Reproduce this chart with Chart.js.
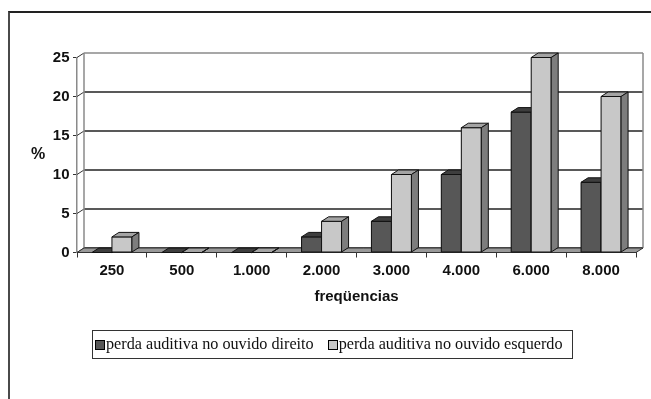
<!DOCTYPE html>
<html lang="pt">
<head>
<meta charset="utf-8">
<script src="https://cdn.jsdelivr.net/npm/chart.js@4/dist/chart.umd.min.js"></script>
<style>
  html, body { margin: 0; padding: 0; background: #fff; }
  #wrap { position: relative; width: 651px; height: 399px; overflow: hidden; }
  #frame { position: absolute; left: 8px; top: 11px; width: 700px; height: 450px;
           border-left: 2px solid #4a4a4a; border-top: 2px solid #222; }
  canvas { position: absolute; left: 0; top: 0; }
  #legenda { position: absolute; left: 92px; top: 330px; width: 479px; height: 27px;
             border: 1px solid #333; font: 16.2px "Liberation Serif", "Times New Roman", serif;
             color: #111; display: flex; align-items: center; white-space: nowrap; }
  #legenda .item { display: flex; align-items: center; }
  #legenda .sw { width: 8px; height: 8px; border: 1px solid #000; margin: 0 1px 0 2px; }
</style>
</head>
<body>
<div id="wrap">
  <div id="frame"></div>
  <canvas id="grafico" width="651" height="399"></canvas>
  <div id="legenda"></div>
</div>
<script>
// Frequências testadas (Hz) e percentual de perda auditiva por ouvido
const categorias = ['250', '500', '1.000', '2.000', '3.000', '4.000', '6.000', '8.000'];
const ouvidoDireito = [0, 0, 0, 2, 4, 10, 18, 9];
const ouvidoEsquerdo = [2, 0, 0, 4, 10, 16, 25, 20];
const rotulos = ['perda auditiva no ouvido direito', 'perda auditiva no ouvido esquerdo'];
const tituloX = 'freqüencias';
const tituloY = '%';

// Profundidade do efeito 3D (deslocamento para trás)
const DX = 7, DY = -4.5;

const cores = [
  { frente: '#575757', topo: '#3e3e3e', lado: '#2f2f2f' },
  { frente: '#c8c8c8', topo: '#a4a4a4', lado: '#7d7d7d' }
];

function poly(ctx, pts, fill, stroke) {
  ctx.beginPath();
  ctx.moveTo(pts[0][0], pts[0][1]);
  for (let i = 1; i < pts.length; i++) ctx.lineTo(pts[i][0], pts[i][1]);
  ctx.closePath();
  if (fill) { ctx.fillStyle = fill; ctx.fill(); }
  if (stroke) { ctx.strokeStyle = stroke; ctx.lineWidth = 1; ctx.stroke(); }
}

// Paredes, grade de fundo, piso e blocos 3D das barras
const cenario3d = {
  id: 'cenario3d',
  beforeDatasetsDraw(chart) {
    const { ctx, chartArea: a, scales: { y } } = chart;
    ctx.save();
    // grade na parede do fundo e diagonais na parede lateral
    y.ticks.forEach(t => {
      const py = y.getPixelForValue(t.value);
      ctx.beginPath();
      ctx.strokeStyle = t.value === y.max ? '#8a8a8a' : '#222';
      ctx.lineWidth = t.value === y.max ? 1.5 : 1.3;
      ctx.moveTo(a.left + DX, py + DY);
      ctx.lineTo(a.right + DX, py + DY);
      ctx.stroke();
      ctx.beginPath();
      ctx.strokeStyle = '#333';
      ctx.lineWidth = 1;
      ctx.moveTo(a.left, py);
      ctx.lineTo(a.left + DX, py + DY);
      ctx.stroke();
    });
    // arestas verticais da parede do fundo
    ctx.strokeStyle = '#8a8a8a';
    ctx.lineWidth = 1.5;
    ctx.beginPath();
    ctx.moveTo(a.left + DX, a.top + DY);
    ctx.lineTo(a.left + DX, a.bottom + DY);
    ctx.moveTo(a.right + DX, a.top + DY);
    ctx.lineTo(a.right + DX, a.bottom + DY);
    ctx.stroke();
    // piso
    poly(ctx, [[a.left, a.bottom], [a.left + DX, a.bottom + DY],
               [a.right + DX, a.bottom + DY], [a.right, a.bottom]], '#999', '#333');
    ctx.restore();
  },
  // cada barra é redesenhada como bloco (frente, topo, lateral), série a série
  // dentro de cada categoria, para que a barra clara cubra a lateral da escura
  afterDatasetsDraw(chart) {
    const { ctx } = chart;
    const metas = chart.data.datasets.map((d, i) => chart.getDatasetMeta(i));
    ctx.save();
    categorias.forEach((_, k) => {
      metas.forEach((meta, i) => {
        const bar = meta.data[k];
        const c = cores[i];
        const l = bar.x - bar.width / 2, r = bar.x + bar.width / 2;
        const t = bar.y, b = bar.base;
        if (b - t > 0.5) poly(ctx, [[l, t], [r, t], [r, b], [l, b]], c.frente, '#111');
        poly(ctx, [[l, t], [l + DX, t + DY], [r + DX, t + DY], [r, t]], c.topo, '#111');
        poly(ctx, [[r, t], [r + DX, t + DY], [r + DX, b + DY], [r, b]], c.lado, '#111');
      });
    });
    ctx.restore();
  },
  afterDraw(chart) {
    const { ctx } = chart;
    ctx.save();
    ctx.fillStyle = '#111';
    ctx.font = 'bold 16px "Liberation Sans", Arial, sans-serif';
    ctx.textAlign = 'center';
    ctx.textBaseline = 'middle';
    ctx.fillText(tituloY, 38, 155);
    ctx.restore();
  }
};

const fonteEixo = { family: '"Liberation Sans", Arial, sans-serif', size: 15, weight: 'bold' };

new Chart(document.getElementById('grafico'), {
  type: 'bar',
  data: {
    labels: categorias,
    datasets: [
      { label: rotulos[0], data: ouvidoDireito, backgroundColor: cores[0].frente,
        borderColor: '#111', borderWidth: 1 },
      { label: rotulos[1], data: ouvidoEsquerdo, backgroundColor: cores[1].frente,
        borderColor: '#111', borderWidth: 1 }
    ]
  },
  options: {
    responsive: false,
    animation: false,
    devicePixelRatio: 1,
    layout: { padding: { left: 0, top: 57.5, right: 15, bottom: 93.5 } },
    datasets: { bar: { categoryPercentage: 0.5725, barPercentage: 1.0 } },
    plugins: { legend: { display: false }, tooltip: { enabled: false } },
    scales: {
      x: {
        grid: { display: true, drawOnChartArea: false, drawTicks: true, tickLength: 5,
                color: '#333', offset: true },
        border: { display: true, color: '#222', width: 1 },
        ticks: { color: '#111', font: fonteEixo, padding: 4.5, maxRotation: 0, autoSkip: false },
        title: { display: true, text: tituloX, color: '#111', font: fonteEixo,
                 padding: { top: 4, bottom: 0 } },
        afterFit(scale) { scale.height = 53; }
      },
      y: {
        min: 0, max: 25,
        ticks: { stepSize: 5, color: '#111', font: fonteEixo, padding: 3.5 },
        grid: { display: true, drawOnChartArea: false, drawTicks: true, tickLength: 4, color: '#333' },
        border: { display: true, color: '#8a8a8a', width: 1.5 },
        afterFit(scale) { scale.width = 77; }
      }
    }
  },
  plugins: [cenario3d]
});

// Legenda com as mesmas séries do gráfico
const leg = document.getElementById('legenda');
rotulos.forEach((txt, i) => {
  const item = document.createElement('span');
  item.className = 'item';
  item.style.marginRight = i === 0 ? '12px' : '0';
  const sw = document.createElement('span');
  sw.className = 'sw';
  sw.style.background = cores[i].frente;
  const tx = document.createElement('span');
  tx.textContent = txt;
  item.appendChild(sw);
  item.appendChild(tx);
  leg.appendChild(item);
});
</script>
</body>
</html>
